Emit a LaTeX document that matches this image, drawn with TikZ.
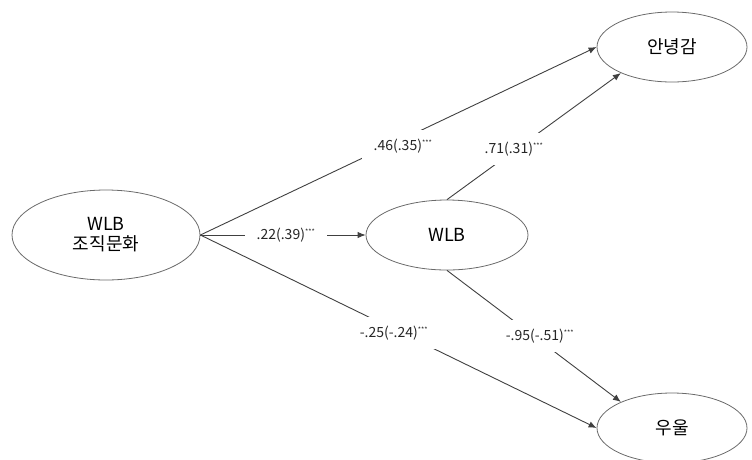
\documentclass[tikz,border=0pt]{standalone}
\usepackage{fontspec}
\setmainfont{Noto Sans CJK KR}
\usetikzlibrary{shapes.geometric,arrows.meta}
\definecolor{linec}{HTML}{404040}
\definecolor{ellc}{HTML}{6A6A6A}
\tikzset{
  var/.style={ellipse,draw=ellc,line width=0.8pt,inner sep=0pt,font=\fontsize{18}{22}\selectfont,align=center},
  path/.style={draw=linec,line width=0.9pt,-{Latex[length=8pt,width=6.5pt]}},
  lab/.style={fill=white,inner xsep=12pt,inner ysep=0pt,minimum height=32pt,font=\fontsize{14}{16}\selectfont,text=black!85}
}
\newcommand{\stars}{\textsuperscript{\fontsize{7}{8}\selectfont ***}}
\begin{document}
\begin{tikzpicture}[x=1pt,y=-1pt]
\useasboundingbox (0,0) rectangle (752,459);
\node[var,minimum width=188pt,minimum height=90pt] (L) at (106,235) {WLB\\[-2pt]조직문화};
\node[var,minimum width=162pt,minimum height=70pt] (W) at (447,235) {WLB};
\node[var,minimum width=150pt,minimum height=70pt] (T) at (672,47) {안녕감};
\node[var,minimum width=150pt,minimum height=70pt] (B) at (672,428) {우울};
\draw[path] (L.east) -- (T.west);
\draw[path] (L.east) -- (W.west);
\draw[path] (L.east) -- (B.west);
\draw[path] (W.north) -- (T.207);
\draw[path] (W.south) -- (B.153);
\node[lab] (l1) at (403,146) {.46(.35)\stars};
\node[lab] (l2) at (514,149) {.71(.31)\stars};
\node[lab] (l3) at (286,235) {.22(.39)\stars};
\node[lab] (l4) at (394,333) {-.25(-.24)\stars};
\node[lab] (l5) at (540,336) {-.95(-.51)\stars};
\end{tikzpicture}
\end{document}
